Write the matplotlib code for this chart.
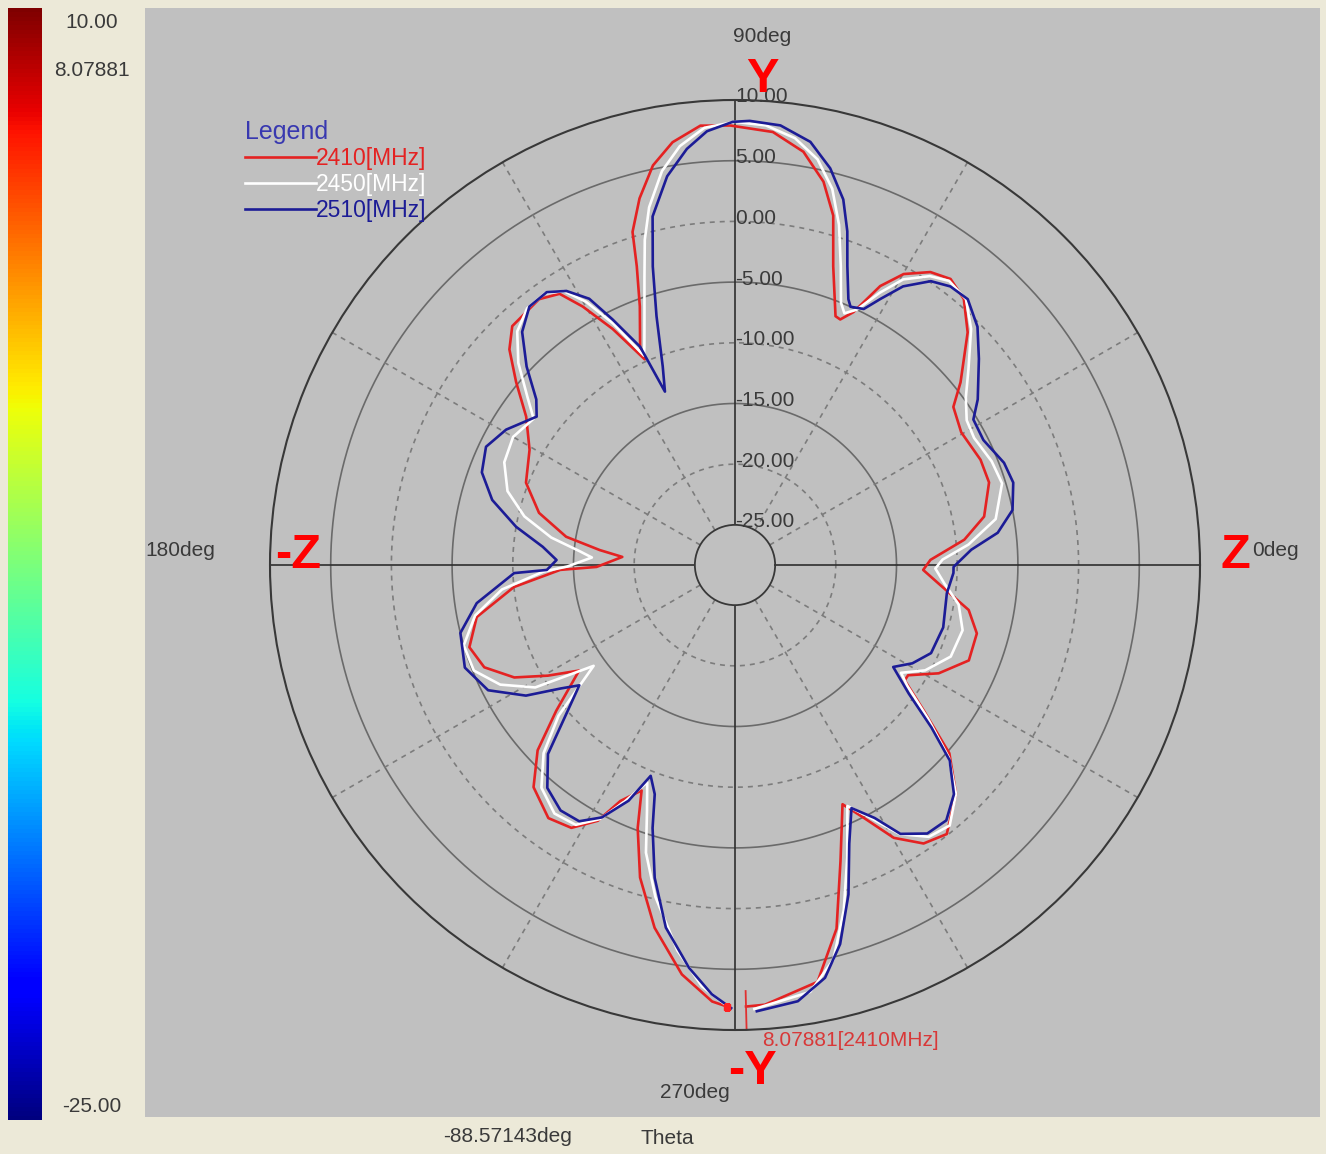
import matplotlib
matplotlib.use('Agg')
import matplotlib.pyplot as plt
import numpy as np

W, H = 1326, 1154

# colour scale on the left
scale_top = 10.0
scale_peak = 8.07881
scale_bottom = -25.0

# polar grid (dB)
r_min, r_max = -25, 10
rings_solid = [5, -5, -15]
rings_dashed = [0, -10, -20]
ring_labels = [10, 5, 0, -5, -10, -15, -20, -25]
spokes_dashed = [30, 60, 120, 150, 210, 240, 300, 330]
spokes_solid = [0, 90, 180, 270]

peak_theta = -88.57143

# 2410 MHz
theta_2410 = [-88.57, -86.1, -78.8, -74.4, -70.4, -65.8, -63.1, -59.8, -55.9, -51.8, -46.0, -41.3,
              -37.6, -34.2, -32.5, -28.0, -22.2, -15.8, -10.9, -6.1, -1.5, 1.5, 6.3, 11.0, 18.0,
              23.2, 30.4, 35.9, 39.0, 45.0, 49.3, 53.0, 56.3, 59.9, 62.5, 64.9, 66.8, 68.0, 71.8,
              74.3, 77.0, 80.6, 85.0, 90.6, 94.5, 98.4, 101.6, 104.6, 107.1, 108.2, 110.2, 113.5,
              113.7, 117.4, 120.5, 122.9, 126.4, 133.0, 136.3, 140.1, 144.6, 150.7, 158.5, 165.1,
              170.5, 173.7, 175.9, 180.8, 181.6, 185.7, 191.4, 197.2, 202.2, 207.0, 210.6, 214.1,
              219.2, 223.2, 227.8, 233.6, 238.1, 241.8, 244.1, 247.5, 249.7, 253.1, 257.5, 262.6,
              267.0, 269.0]
db_2410 = [8.08, 8.0, 6.7, 2.8, -2.4, -6.7, -5.0, -2.3, -0.6, -0.1, -2.1, -4.8,
           -8.7, -11.4, -11.4, -9.3, -7.5, -7.6, -8.7, -11.1, -12.8, -12.2, -9.3, -7.4, -6.3,
           -6.3, -6.7, -6.1, -4.4, -1.2, 0.6, 1.2, 0.7, -0.6, -2.4, -5.3, -6.3, -6.2, -2.4,
           1.6, 4.1, 6.2, 7.5, 7.9, 8.0, 6.9, 5.3, 2.9, 0.4, -2.4, -5.6, -8.7,
           -9.8, -6.4, -3.6, -1.7, -1.1, -1.4, -2.6, -4.8, -7.2, -8.9, -9.8, -11.6,
           -14.2, -17.1, -19.0, -16.9, -13.9, -10.0, -6.6, -5.4, -6.0, -7.9, -10.4, -12.8,
           -9.3, -6.0, -3.6, -2.4, -2.8, -4.4, -6.7, -8.2, -5.2, -1.4, 2.3, 5.7,
           7.7, 8.08]

# 2450 MHz
theta_2450 = [-87.5, -80, -76, -72.5, -69, -65, -62, -58.5, -54.5, -50.5, -46, -42, -38.5, -35,
              -33, -29, -23, -16, -10, -5, -1, 1.5, 5, 10, 17, 22, 28, 32, 36, 40, 45, 49, 53, 56,
              59.5, 62, 64.5, 66.5, 68, 70.5, 73, 75.5, 78.5, 82, 86, 90, 94, 97.5, 100.5, 103.5,
              105.5, 107.5, 110, 112.5, 113.5, 116.8, 119.5, 122, 125, 129, 133, 137, 141, 144,
              150, 156, 162, 167, 171.5, 175, 177, 180.5, 182, 186, 191, 196.5, 202, 207, 211.5,
              215.5, 220.5, 224.5, 229, 234, 238.5, 242, 245, 248, 250.3, 252.8, 256.5, 261.5,
              265.5, 269.3]
db_2450 = [8.3, 7.4, 5.2, 1.5, -2.5, -6.4, -4.8, -2.3, -0.8, -0.5, -2.1, -4.6, -8.0, -11.0,
           -12.0, -10.4, -9.0, -8.8, -9.6, -11.0, -11.8, -11.2, -9.0, -6.5, -5.3, -5.5, -6.0, -5.8,
           -4.8, -3.2, -0.8, 0.7, 1.0, 0.4, -1.0, -2.9, -5.0, -5.7, -5.0, -2.2, 1.0, 3.7, 5.8, 7.2,
           8.0, 8.2, 7.8, 6.5, 4.7, 2.0, -0.5, -3.5, -6.5, -8.8, -9.5, -6.0, -3.4, -1.7, -1.0,
           -1.1, -2.0, -3.9, -6.3, -7.8, -7.2, -7.5, -8.6, -10.5, -13.0, -15.5, -16.5, -14.5,
           -12.5, -9.0, -6.5, -5.0, -5.1, -6.6, -9.0, -14.0, -9.2, -6.2, -4.0, -3.0, -3.2, -4.6,
           -6.8, -9.0, -6.8, -3.5, -0.2, 3.8, 6.5, 8.2]

# 2510 MHz
theta_2510 = [-87.2, -81.8, -77.7, -74.5, -71.0, -67.7, -64.4, -61.1, -58.4, -54.4, -50.4, -46.3,
              -42.3, -39.6, -36.5, -32.8, -29.0, -24.2, -16.7, -7.6, -2.1, -0.5, 3.7, 7.0, 11.2,
              16.5, 20.8, 26.7, 31.4, 34.3, 40.2, 44.5, 48.8, 52.3, 55.4, 58.9, 61.3, 63.3, 65.9,
              66.9, 69.4, 71.4, 73.5, 76.5, 79.9, 84.1, 88.1, 90.3, 93.7, 96.6, 99.9, 103.3,
              105.4, 107.5, 110.0, 112.0, 113.5, 116.5, 118.7, 121.6, 124.6, 128.5, 132.4, 136.4,
              140.2, 143.2, 149.4, 154.6, 159.9, 165.0, 170.1, 174.6, 178.4, 181.5, 182.1, 188.4,
              193.9, 200.8, 206.9, 212.0, 215.3, 217.7, 221.8, 225.3, 229.9, 234.6, 238.7, 242.2,
              245.7, 248.2, 250.7, 252.6, 255.6, 259.2, 263.5, 266.9, 269.5]
db_2510 = [8.5, 8.0, 6.5, 4.1, 0.4, -3.5, -6.1, -4.5, -2.3, -1.1, -1.0, -2.2,
           -4.4, -7.3, -10.5, -12.8, -11.6, -10.6, -10.4, -10.7, -10.3, -10.3, -8.8, -6.5, -5.0,
           -4.4, -4.6, -5.4, -5.3, -4.1, -2.0, -0.3, 0.8, 0.7, 0.1, -1.5, -3.3, -4.7, -5.0,
           -4.5, -2.0, 0.7, 3.1, 5.3, 7.1, 8.1, 8.3, 8.2, 7.5, 6.2, 4.2, 1.2,
           -2.8, -6.8, -10.9, -12.9, -8.7, -5.7, -3.3, -1.8, -1.0, -1.1, -2.3, -4.6,
           -7.0, -7.9, -6.4, -5.6, -6.1, -7.6, -10.0, -12.4, -13.6, -12.8, -10.1, -6.8,
           -5.0, -4.5, -5.5, -8.0, -10.7, -12.1, -9.5, -6.4, -4.3, -3.5, -3.6, -4.8,
           -7.0, -9.6, -8.3, -5.6, -1.7, 2.1, 5.1, 7.1, 8.2]

series = [('2410[MHz]', theta_2410, db_2410, '#e42222'),
          ('2450[MHz]', theta_2450, db_2450, '#ffffff'),
          ('2510[MHz]', theta_2510, db_2510, '#1c1c96')]

plt.rcParams['font.family'] = ['Liberation Sans', 'DejaVu Sans']
txt = '#3a3a3a'


def fxy(x, y):
    # pixel position -> figure fraction
    return x / W, 1 - y / H


fig = plt.figure(figsize=(W / 100, H / 100), dpi=100, facecolor='#ece9d8')

# grey plotting area
bg = fig.add_axes([145 / W, 1 - 1117 / H, 1175 / W, 1109 / H])
bg.set_facecolor('#c0c0c0')
bg.set_xticks([])
bg.set_yticks([])
for s in bg.spines.values():
    s.set_visible(False)

# colour bar
cb = fig.add_axes([8 / W, 1 - 1120 / H, 34 / W, 1112 / H])
cb.imshow(np.linspace(scale_top, scale_bottom, 256).reshape(-1, 1), cmap='jet',
          vmin=scale_bottom, vmax=scale_top, aspect='auto')
cb.axis('off')
fig.text(*fxy(92, 22), f'{scale_top:.2f}', ha='center', va='center', fontsize=15, color=txt)
fig.text(*fxy(92, 70), f'{scale_peak:.5f}', ha='center', va='center', fontsize=15, color=txt)
fig.text(*fxy(92, 1107), f'{scale_bottom:.2f}', ha='center', va='center', fontsize=15, color=txt)

# polar plot
ax = fig.add_axes([270 / W, 1 - 1030 / H, 930 / W, 930 / H], projection='polar')
ax.set_facecolor('none')
ax.set_ylim(r_min, r_max)
ax.set_rorigin(r_min - 40 / 12.1)
ax.set_xticks([])
ax.set_yticks([])
ax.grid(False)
ax.spines['polar'].set_color('#383838')
ax.spines['polar'].set_linewidth(1.5)
ax.spines['inner'].set_color('#383838')
ax.spines['inner'].set_linewidth(1.3)

ring_t = np.linspace(0, 2 * np.pi, 721)
for r in rings_solid:
    ax.plot(ring_t, np.full_like(ring_t, r), color='#6a6a6a', lw=1.2)
for r in rings_dashed:
    ax.plot(ring_t, np.full_like(ring_t, r), color='#7c7c7c', lw=1.2, ls=(0, (3, 3)))
for a in spokes_dashed:
    ax.plot([np.deg2rad(a)] * 2, [r_min, r_max], color='#7c7c7c', lw=1.2, ls=(0, (3, 3)))
for a in spokes_solid:
    ax.plot([np.deg2rad(a)] * 2, [r_min, r_max], color='#2e2e2e', lw=1.2)

for v in ring_labels:
    ax.text(np.pi / 2, v + 0.25, f'{v:.2f}', ha='left', va='center', fontsize=15, color=txt)

for label, th, db, col in series:
    ax.plot(np.deg2rad(th), db, color=col, lw=1.9, label=label)

# peak marker
ax.plot([np.deg2rad(peak_theta)] * 2, [6.8, r_max], color='#e03030', lw=1.3)
ax.plot(np.deg2rad(theta_2410[-1]), db_2410[-1], 's', ms=5, color='#ff2020')

leg = fig.legend(loc='upper left', bbox_to_anchor=fxy(245, 120), frameon=False,
                 title='Legend', title_fontsize=18, alignment='left', labelcolor='linecolor',
                 handlelength=3.1, handletextpad=0.0, borderpad=0, borderaxespad=0,
                 labelspacing=0.13, fontsize=16.5)
leg.get_title().set_color('#3838b0')

# angle labels
fig.text(*fxy(762, 37), '90deg', ha='center', va='center', fontsize=15, color=txt)
fig.text(*fxy(180, 551), '180deg', ha='center', va='center', fontsize=15, color=txt)
fig.text(*fxy(1275, 551), '0deg', ha='center', va='center', fontsize=15, color=txt)
fig.text(*fxy(695, 1093), '270deg', ha='center', va='center', fontsize=15, color=txt)

# axis names
for s, x, y in [('Y', 762, 80), ('-Z', 298, 556), ('Z', 1235, 556), ('-Y', 752, 1072)]:
    fig.text(*fxy(x, y), s, ha='center', va='center', fontsize=35, fontweight='bold',
             color='#ff0000')

fig.text(*fxy(762, 1041), f'{scale_peak:.5f}[2410MHz]', ha='left', va='center', fontsize=15,
         color='#d83838')
fig.text(*fxy(508, 1136), f'{peak_theta:.5f}deg', ha='center', va='center', fontsize=15, color=txt)
fig.text(*fxy(667, 1138), 'Theta', ha='center', va='center', fontsize=15, color=txt)

fig.savefig('out.png', dpi=100, facecolor=fig.get_facecolor())
